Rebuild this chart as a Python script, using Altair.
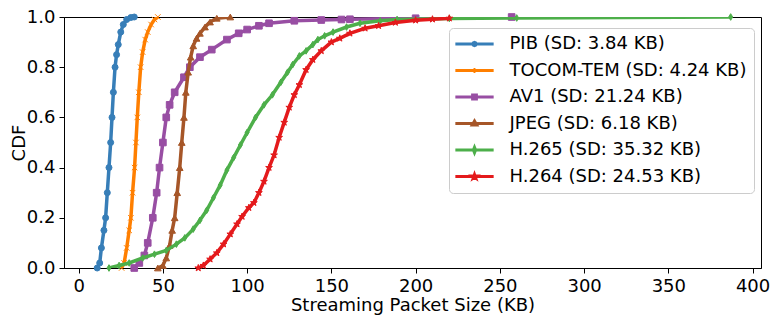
import altair as alt
import pandas as pd

series_names = [
    "PIB (SD: 3.84 KB)",
    "TOCOM-TEM (SD: 4.24 KB)",
    "AV1 (SD: 21.24 KB)",
    "JPEG (SD: 6.18 KB)",
    "H.265 (SD: 35.32 KB)",
    "H.264 (SD: 24.53 KB)",
]
colors = ["#377eb8", "#ff7f00", "#984ea3", "#a65628", "#4daf4a", "#e41a1c"]

# CDF curves: packet size (KB) and cumulative probability
pib_x = [11, 12.5, 13.5, 15, 16, 17, 18, 19, 19.8, 20.6, 21.6, 22.5, 23.5, 25, 26.5, 28.5, 31, 33]
pib_p = [0, 0.02, 0.08, 0.15, 0.2, 0.3, 0.4, 0.5, 0.6, 0.7, 0.8, 0.85, 0.89, 0.94, 0.97, 0.99, 0.998, 1.0]

tocom_x = [25.5, 27, 28.5, 30, 31, 32, 33.2, 34, 34.8, 35.7, 36.8, 38, 39.5, 41, 43, 45, 47]
tocom_p = [0, 0.02, 0.08, 0.15, 0.2, 0.3, 0.4, 0.5, 0.6, 0.7, 0.8, 0.86, 0.91, 0.94, 0.97, 0.99, 1.0]

av1_x = [33, 36, 39, 41, 44, 46.3, 48, 50, 52, 54, 57, 62.5, 66, 72, 79, 88, 95, 100, 107, 113, 128, 144, 156, 161, 200, 257]
av1_p = [0, 0.02, 0.05, 0.1, 0.2, 0.3, 0.4, 0.5, 0.6, 0.65, 0.7, 0.76, 0.8, 0.84, 0.87, 0.91, 0.935, 0.95, 0.965, 0.975, 0.985, 0.988, 0.99, 0.991, 0.995, 1.0]

jpeg_x = [47, 50, 52, 54, 55.5, 57, 58.5, 60, 61.2, 62.5, 63.6, 65, 66.5, 68, 70, 72, 75, 78, 82, 90]
jpeg_p = [0, 0.01, 0.04, 0.09, 0.15, 0.2, 0.3, 0.4, 0.5, 0.6, 0.7, 0.78, 0.84, 0.885, 0.915, 0.935, 0.96, 0.98, 0.995, 1.0]

h265_x = [18, 24, 30, 38, 45, 52, 58, 63, 68, 72, 76, 80, 84, 88, 92, 96, 100, 105, 110, 115, 120, 124, 127, 131, 135, 139, 142, 146, 151, 159, 167, 179, 189, 220, 260, 387]
h265_p = [0, 0.01, 0.02, 0.04, 0.055, 0.07, 0.095, 0.12, 0.155, 0.19, 0.23, 0.28, 0.33, 0.39, 0.44, 0.49, 0.54, 0.6, 0.65, 0.69, 0.74, 0.78, 0.81, 0.845, 0.865, 0.89, 0.91, 0.925, 0.94, 0.96, 0.975, 0.985, 0.99, 0.994, 0.996, 1.0]

h264_x = [71, 74, 78, 82, 86, 90, 94, 97, 101, 104, 107, 110, 113, 116, 119, 122, 125, 128, 131, 135, 139, 144, 150, 155, 161, 170, 178, 188, 200, 210, 220]
h264_p = [0, 0.01, 0.035, 0.06, 0.095, 0.135, 0.175, 0.205, 0.24, 0.26, 0.3, 0.345, 0.4, 0.45, 0.52, 0.58, 0.64, 0.69, 0.73, 0.79, 0.83, 0.865, 0.9, 0.915, 0.935, 0.955, 0.965, 0.978, 0.987, 0.991, 0.995]

x_ticks = [0, 50, 100, 150, 200, 250, 300, 350, 400]
y_ticks = [0.0, 0.2, 0.4, 0.6, 0.8, 1.0]

all_x = [pib_x, tocom_x, av1_x, jpeg_x, h265_x, h264_x]
all_p = [pib_p, tocom_p, av1_p, jpeg_p, h265_p, h264_p]

rows = []
for name, xs, ps in zip(series_names, all_x, all_p):
    for i, (xv, pv) in enumerate(zip(xs, ps)):
        rows.append({"series": name, "x": xv, "p": pv, "idx": i})
df = pd.DataFrame(rows)
legend_df = df[df["idx"] == 0]

# plot marker shapes (matplotlib-like: o, x, s, ^, d, *)
star = "M0,-1L0.24,-0.3L0.95,-0.3L0.38,0.12L0.6,0.8L0,0.4L-0.6,0.8L-0.38,0.12L-0.95,-0.3L-0.24,-0.3Z"
plot_shapes = [
    "circle",
    "M-1,-1L1,1M-1,1L1,-1",
    "square",
    "triangle-up",
    "M0,-1L0.6,0L0,1L-0.6,0Z",
    star,
]
plot_sizes = [36, 30, 44, 44, 44, 50]

# legend symbols: a line with a small marker in the middle
line_path = "M-3.83,0L3.83,0"
legend_paths = [
    line_path + "M0.34,0L0.24,0.24L0,0.34L-0.24,0.24L-0.34,0L-0.24,-0.24L0,-0.34L0.24,-0.24Z",
    line_path + "M-0.3,-0.3L0.3,0.3M-0.3,0.3L0.3,-0.3",
    line_path + "M-0.38,-0.38L0.38,-0.38L0.38,0.38L-0.38,0.38Z",
    line_path + "M0,-0.5L0.45,0.3L-0.45,0.3Z",
    line_path + "M0,-0.55L0.22,0L0,0.55L-0.22,0Z",
    line_path + "M0,-0.4L0.1,-0.12L0.38,-0.12L0.15,0.05L0.24,0.32L0,0.16L-0.24,0.32L-0.15,0.05L-0.38,-0.12L-0.1,-0.12Z",
]

font = "DejaVu Sans"
xscale = alt.Scale(domain=[-8.7, 405], nice=False, zero=False)
yscale = alt.Scale(domain=[0, 1], nice=False)
xaxis = alt.Axis(values=x_ticks, title="Streaming Packet Size (KB)", format="d", grid=False)
yaxis = alt.Axis(values=y_ticks, title="CDF", format=".1f", grid=False)

layers = []
for i, name in enumerate(series_names):
    base = alt.Chart(df).transform_filter(alt.datum.series == name)
    line = base.mark_line(color=colors[i], strokeWidth=3.5, clip=True).encode(
        x=alt.X("x:Q", scale=xscale, axis=xaxis),
        y=alt.Y("p:Q", scale=yscale, axis=yaxis),
        order="idx:Q",
    )
    pts = base.mark_point(
        filled=True, shape=plot_shapes[i], size=plot_sizes[i],
        color=colors[i], stroke=colors[i], strokeWidth=1, opacity=1,
    ).encode(x=alt.X("x:Q", scale=xscale), y=alt.Y("p:Q", scale=yscale))
    layers += [line, pts]

leg = alt.Legend(
    orient="none", legendX=385, legendY=11, title=None,
    symbolSize=100, symbolStrokeWidth=3, symbolOpacity=1,
    labelFontSize=18, labelFont=font, labelColor="black", labelLimit=400,
    padding=7, rowPadding=8.5, symbolOffset=9.5, labelOffset=26,
    strokeColor="#cccccc", fillColor="rgba(255,255,255,0.8)", cornerRadius=4,
)
legend_layer = alt.Chart(legend_df).mark_point(filled=False, opacity=0, size=100, strokeWidth=3).encode(
    x=alt.X("x:Q", scale=xscale),
    y=alt.Y("p:Q", scale=yscale),
    color=alt.Color("series:N", scale=alt.Scale(domain=series_names, range=colors), legend=leg),
    shape=alt.Shape("series:N", scale=alt.Scale(domain=series_names, range=legend_paths), legend=leg),
)
layers.append(legend_layer)

chart = alt.layer(*layers).properties(
    width=697, height=251,
    autosize=alt.AutoSizeParams(type="none"),
    padding={"left": 56, "top": 9, "right": 12, "bottom": 49},
).configure_view(stroke="black", strokeWidth=1).configure_axis(
    domainColor="black", domainWidth=1, tickColor="black", tickSize=5, tickWidth=1,
    labelFont=font, labelFontSize=18, labelColor="black", labelPadding=4,
    titleFont=font, titleFontSize=18, titleFontWeight="normal", titleColor="black",
).configure_axisX(titlePadding=1).configure_axisY(titlePadding=-2)

chart.save("out.html", embed_options={"renderer": "svg", "actions": False})
